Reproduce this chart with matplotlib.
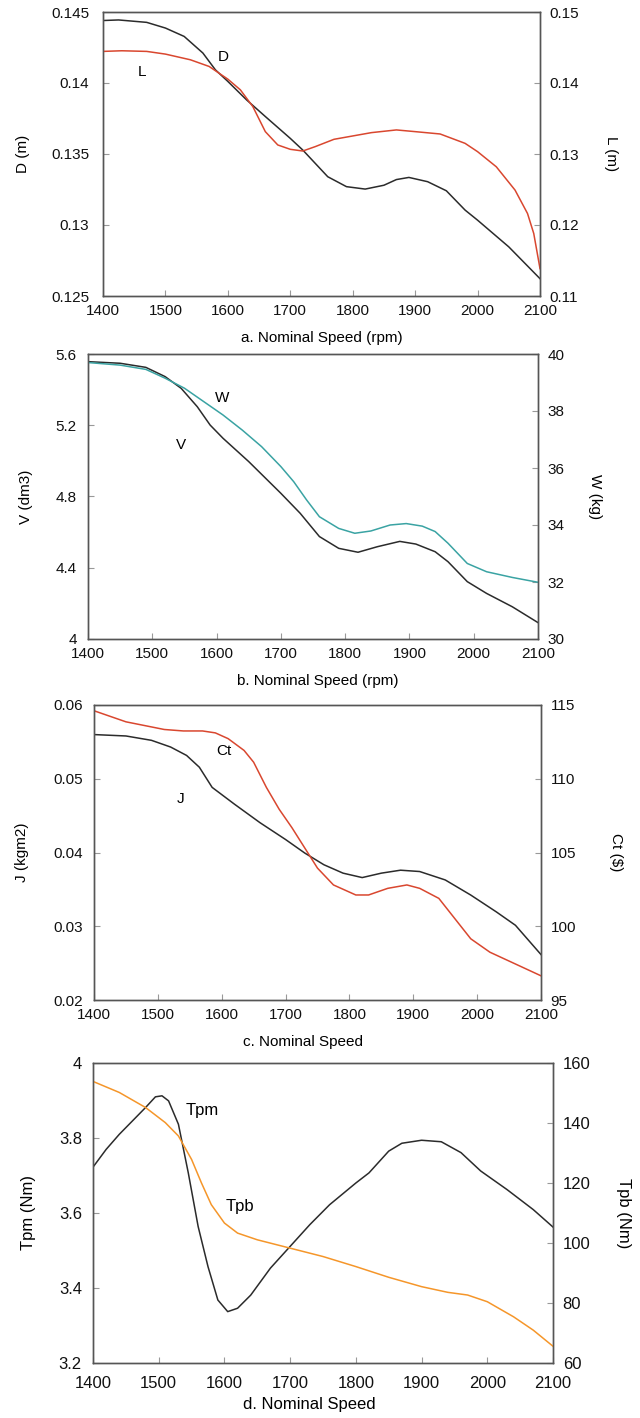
import matplotlib
matplotlib.use("Agg")
import matplotlib.pyplot as plt
import numpy as np

plt.rcParams['font.family'] = ['Liberation Sans', 'DejaVu Sans']

# ---- panel a: D and L ----
a_D_x = [1400, 1425, 1470, 1500, 1530, 1560, 1580, 1600, 1630, 1660, 1700, 1720,
         1760, 1790, 1820, 1850, 1870, 1890, 1920, 1950, 1980, 2000, 2050, 2100]
a_D = [0.1444, 0.14444, 0.14427, 0.14387, 0.14328, 0.14211, 0.14093, 0.14011,
       0.13881, 0.13764, 0.1361, 0.13528, 0.1334, 0.1327, 0.13253, 0.1328,
       0.1332, 0.13335, 0.13305, 0.13241, 0.13105, 0.13034, 0.12846, 0.12622]
a_L_x = [1400, 1430, 1470, 1500, 1540, 1570, 1600, 1620, 1640, 1660, 1680, 1700,
         1720, 1740, 1770, 1800, 1830, 1870, 1900, 1940, 1980, 2000, 2030, 2060,
         2080, 2090, 2100]
a_L = [0.14445, 0.14454, 0.14445, 0.14407, 0.14327, 0.14233, 0.14054, 0.13904,
       0.13668, 0.13315, 0.13127, 0.13066, 0.13042, 0.13104, 0.13207, 0.13254,
       0.13301, 0.13339, 0.13315, 0.13282, 0.1315, 0.13033, 0.1282, 0.12492,
       0.12162, 0.1188, 0.11386]

# ---- panel b: V and W ----
b_V_x = [1400, 1450, 1490, 1520, 1545, 1570, 1590, 1610, 1650, 1700, 1730, 1760,
         1790, 1820, 1850, 1885, 1910, 1940, 1960, 1990, 2020, 2060, 2100]
b_V = [5.557, 5.548, 5.525, 5.473, 5.407, 5.304, 5.201, 5.127, 4.996, 4.818,
       4.706, 4.575, 4.509, 4.487, 4.518, 4.548, 4.533, 4.49, 4.434, 4.322,
       4.256, 4.181, 4.092]
b_W_x = [1400, 1450, 1490, 1520, 1550, 1580, 1610, 1640, 1670, 1700, 1720, 1740,
         1760, 1790, 1815, 1840, 1870, 1895, 1920, 1940, 1960, 1990, 2020, 2060, 2100]
b_W = [39.70, 39.61, 39.46, 39.15, 38.80, 38.33, 37.86, 37.33, 36.75, 36.05,
       35.52, 34.88, 34.29, 33.88, 33.71, 33.79, 34.0, 34.05, 33.96, 33.77,
       33.36, 32.65, 32.36, 32.16, 31.99]

# ---- panel c: J and Ct ----
c_J_x = [1400, 1450, 1490, 1520, 1545, 1565, 1585, 1620, 1660, 1700, 1730, 1760,
         1790, 1820, 1850, 1880, 1910, 1950, 1990, 2030, 2060, 2100]
c_J = [0.05599, 0.0558, 0.05521, 0.0543, 0.05316, 0.05156, 0.04883, 0.04655,
       0.04404, 0.04176, 0.03993, 0.03834, 0.0372, 0.0366, 0.0372, 0.0376,
       0.03742, 0.03628, 0.03423, 0.03195, 0.03013, 0.02616]
c_Ct_x = [1400, 1450, 1510, 1540, 1570, 1590, 1610, 1635, 1650, 1670, 1690, 1710,
          1730, 1750, 1775, 1810, 1830, 1860, 1890, 1910, 1940, 1965, 1990, 2020,
          2060, 2100]
c_Ct = [114.61, 113.86, 113.34, 113.24, 113.24, 113.11, 112.72, 111.92, 111.12,
        109.41, 107.93, 106.68, 105.31, 103.94, 102.80, 102.12, 102.12, 102.57,
        102.80, 102.57, 101.89, 100.52, 99.15, 98.24, 97.44, 96.64]

# ---- panel d: Tpm and Tpb ----
d_Tpm_x = [1400, 1420, 1440, 1460, 1480, 1495, 1505, 1515, 1530, 1545, 1560, 1575,
           1590, 1605, 1620, 1640, 1670, 1700, 1730, 1760, 1800, 1820, 1850, 1870,
           1900, 1930, 1960, 1990, 2030, 2070, 2100]
d_Tpm = [3.7223, 3.7696, 3.8098, 3.8455, 3.8813, 3.9098, 3.9125, 3.899, 3.8366,
         3.707, 3.564, 3.457, 3.368, 3.337, 3.346, 3.381, 3.453, 3.511, 3.569,
         3.622, 3.680, 3.707, 3.765, 3.786, 3.794, 3.790, 3.761, 3.712, 3.6625,
         3.609, 3.5625]
d_Tpb_x = [1400, 1440, 1480, 1510, 1530, 1550, 1565, 1580, 1600, 1620, 1650, 1700,
           1750, 1800, 1850, 1900, 1940, 1970, 2000, 2040, 2070, 2100]
d_Tpb = [153.86, 150.18, 145.16, 140.13, 135.67, 127.86, 120.04, 112.79, 106.65,
         103.30, 101.07, 98.28, 95.49, 92.14, 88.57, 85.45, 83.55, 82.66, 80.43,
         75.4, 70.94, 65.58]

speed_ticks = [1400, 1500, 1600, 1700, 1800, 1900, 2000, 2100]

W_PX, H_PX = 640, 1418
fig = plt.figure(figsize=(W_PX / 100, H_PX / 100), dpi=100)

BLACK = '#2b2b2b'
RED = '#d9472f'
TEAL = '#3aa3a3'
ORANGE = '#f5962a'
SPINE = '#555555'
TICK = '#999999'


def panel(box, x1, y1, x2, y2, c1, c2, lim1, lim2, ticks1, ticks2,
          lbl1, lbl2, xlbl, xlbl_cx, ylbl_x1, ylbl_x2, notes, lpad=8, xpad=6,
          fs=11):
    left, right, top, bottom = box
    ax = fig.add_axes([left / W_PX, (H_PX - bottom) / H_PX,
                       (right - left) / W_PX, (bottom - top) / H_PX])
    ax2 = ax.twinx()
    ax.plot(x1, y1, color=c1, lw=1.1)
    ax2.plot(x2, y2, color=c2, lw=1.1)
    ax.set_xlim(1400, 2100)
    ax.set_ylim(*lim1)
    ax2.set_ylim(*lim2)
    ax.set_xticks(speed_ticks)
    ax.set_xticklabels([str(t) for t in speed_ticks])
    ax.set_yticks(ticks1)
    ax.set_yticklabels(['%g' % t for t in ticks1])
    ax2.set_yticks(ticks2)
    ax2.set_yticklabels(['%g' % t for t in ticks2])
    for a in (ax, ax2):
        for s in a.spines.values():
            s.set_color(SPINE)
            s.set_linewidth(1.0)
        a.tick_params(direction='in', length=4, width=0.8, color=TICK,
                      labelsize=fs, labelcolor='#111111')
    ax.tick_params(axis='y', pad=lpad)
    ax.tick_params(axis='x', pad=xpad)
    ax2.tick_params(axis='y', pad=7)
    cy = (top + bottom) / 2
    fig.text(ylbl_x1 / W_PX, 1 - cy / H_PX, lbl1, rotation=90, ha='center',
             va='center', fontsize=fs)
    fig.text(ylbl_x2 / W_PX, 1 - cy / H_PX, lbl2, rotation=270, ha='center',
             va='center', fontsize=fs)
    fig.text(xlbl_cx / W_PX, 1 - (bottom + 42) / H_PX, xlbl, ha='center',
             va='center', fontsize=fs)
    for txt, xx, yy in notes:
        ax.text(xx, yy, txt, ha='center', va='center', fontsize=fs)
    return ax, ax2


panel((103, 540, 12, 296), a_D_x, a_D, a_L_x, a_L, BLACK, RED,
      (0.125, 0.145), (0.11, 0.15),
      [0.125, 0.13, 0.135, 0.14, 0.145], [0.11, 0.12, 0.13, 0.14, 0.15],
      'D (m)', 'L (m)', 'a. Nominal Speed (rpm)', 322, 23, 611,
      [('D', 1592, 0.14185), ('L', 1463, 0.1408)], lpad=10)

panel((88, 538, 354, 639), b_V_x, b_V, b_W_x, b_W, BLACK, TEAL,
      (4.0, 5.6), (30, 40),
      [4.0, 4.4, 4.8, 5.2, 5.6], [30, 32, 34, 36, 38, 40],
      'V (dm3)', 'W (kg)', 'b. Nominal Speed (rpm)', 318, 26, 595,
      [('W', 1609, 5.351), ('V', 1545, 5.089)])

panel((94, 541, 705, 1000), c_J_x, c_J, c_Ct_x, c_Ct, BLACK, RED,
      (0.02, 0.06), (95, 115),
      [0.02, 0.03, 0.04, 0.05, 0.06], [95, 100, 105, 110, 115],
      'J (kgm2)', 'Ct ($)', 'c. Nominal Speed', 303, 22, 616,
      [('Ct', 1603, 0.0537), ('J', 1536, 0.04723)])

panel((93, 553, 1063, 1363), d_Tpm_x, d_Tpm, d_Tpb_x, d_Tpb, BLACK, ORANGE,
      (3.2, 4.0), (60, 160),
      [3.2, 3.4, 3.6, 3.8, 4.0], [60, 80, 100, 120, 140, 160],
      'Tpm (Nm)', 'Tpb (Nm)', 'd. Nominal Speed', 309, 29, 624,
      [('Tpm', 1566, 3.872), ('Tpb', 1624, 3.618)], xpad=9, fs=12)

fig.savefig('out.png', dpi=100)
